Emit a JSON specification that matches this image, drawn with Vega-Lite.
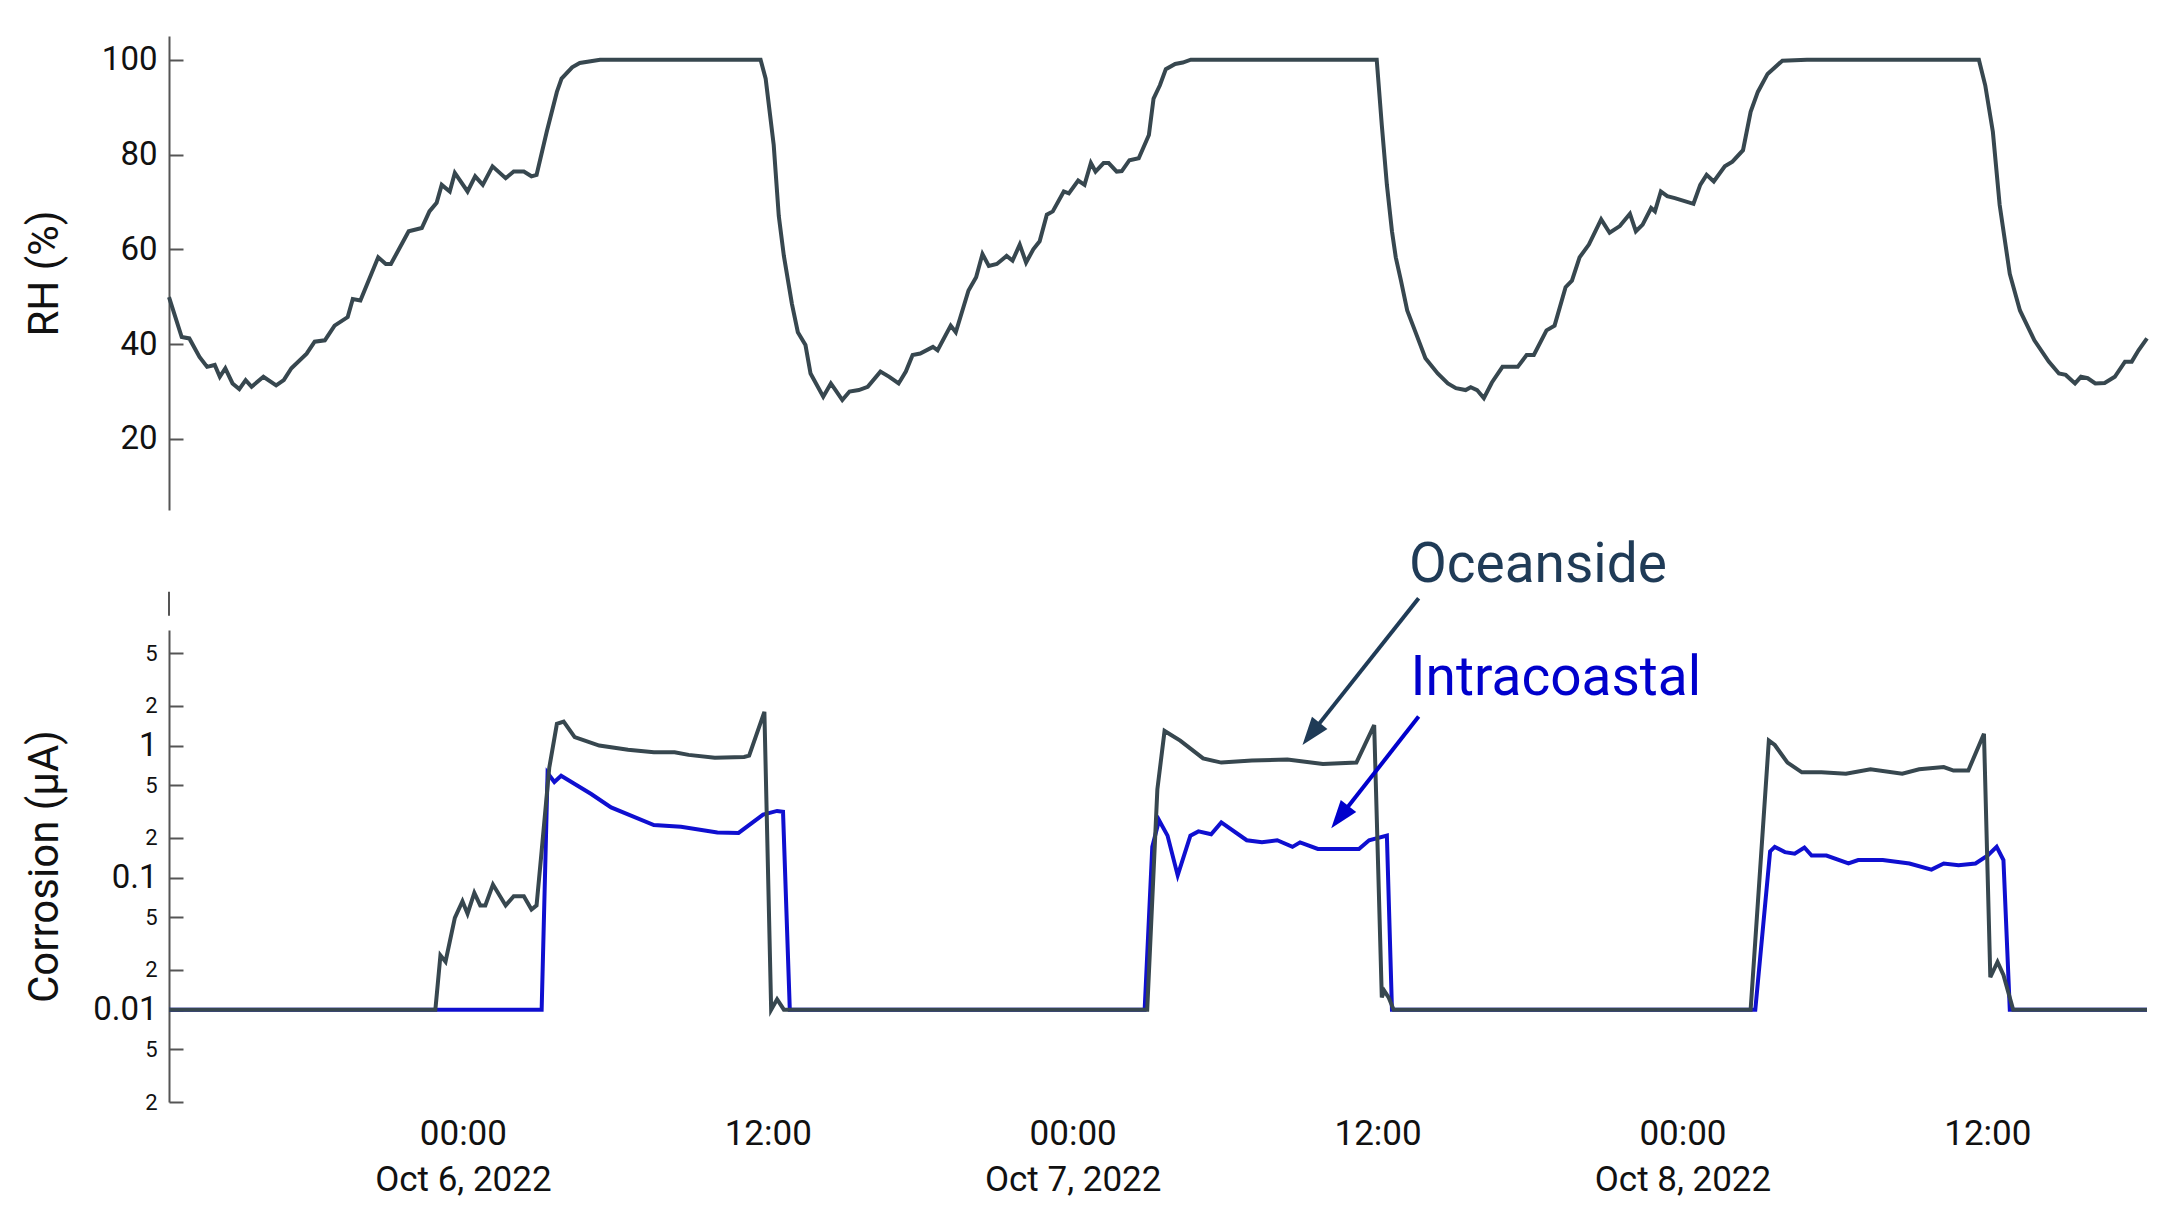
{
  "$schema": "https://vega.github.io/schema/vega-lite/v6.json",
  "background": "white",
  "padding": {"left": 22, "top": 36, "right": 5, "bottom": 5},
  "bounds": "flush",
  "spacing": 120,
  "config": {"view": {"stroke": null}, "font": "Roboto"},
  "datasets": {
    "rh": [
      {"t": "2022-10-05T12:26:00", "v": 49.9}, {"t": "2022-10-05T12:56:00", "v": 41.5}, {"t": "2022-10-05T13:14:00", "v": 41.2},
      {"t": "2022-10-05T13:38:00", "v": 37.3}, {"t": "2022-10-05T13:56:00", "v": 35.2}, {"t": "2022-10-05T14:14:00", "v": 35.6},
      {"t": "2022-10-05T14:26:00", "v": 33.1}, {"t": "2022-10-05T14:39:00", "v": 34.9}, {"t": "2022-10-05T14:56:00", "v": 31.7},
      {"t": "2022-10-05T15:12:00", "v": 30.5}, {"t": "2022-10-05T15:27:00", "v": 32.4}, {"t": "2022-10-05T15:41:00", "v": 31.0},
      {"t": "2022-10-05T16:09:00", "v": 33.1}, {"t": "2022-10-05T16:39:00", "v": 31.3}, {"t": "2022-10-05T16:57:00", "v": 32.4},
      {"t": "2022-10-05T17:15:00", "v": 34.9}, {"t": "2022-10-05T17:51:00", "v": 38.0}, {"t": "2022-10-05T18:10:00", "v": 40.5},
      {"t": "2022-10-05T18:34:00", "v": 40.8}, {"t": "2022-10-05T18:57:00", "v": 43.9}, {"t": "2022-10-05T19:28:00", "v": 45.7},
      {"t": "2022-10-05T19:40:00", "v": 49.5}, {"t": "2022-10-05T19:58:00", "v": 49.2}, {"t": "2022-10-05T20:40:00", "v": 58.3},
      {"t": "2022-10-05T20:58:00", "v": 56.9}, {"t": "2022-10-05T21:10:00", "v": 56.9}, {"t": "2022-10-05T21:52:00", "v": 63.8},
      {"t": "2022-10-05T22:23:00", "v": 64.5}, {"t": "2022-10-05T22:41:00", "v": 68.0}, {"t": "2022-10-05T22:58:00", "v": 69.8},
      {"t": "2022-10-05T23:10:00", "v": 73.6}, {"t": "2022-10-05T23:29:00", "v": 72.2}, {"t": "2022-10-05T23:41:00", "v": 76.1},
      {"t": "2022-10-06T00:11:00", "v": 72.2}, {"t": "2022-10-06T00:29:00", "v": 75.4}, {"t": "2022-10-06T00:47:00", "v": 73.6},
      {"t": "2022-10-06T01:10:00", "v": 77.5}, {"t": "2022-10-06T01:41:00", "v": 75.0}, {"t": "2022-10-06T02:00:00", "v": 76.4},
      {"t": "2022-10-06T02:24:00", "v": 76.4}, {"t": "2022-10-06T02:42:00", "v": 75.4}, {"t": "2022-10-06T02:54:00", "v": 75.7},
      {"t": "2022-10-06T03:18:00", "v": 84.8}, {"t": "2022-10-06T03:42:00", "v": 93.2}, {"t": "2022-10-06T03:53:00", "v": 96.0},
      {"t": "2022-10-06T04:18:00", "v": 98.4}, {"t": "2022-10-06T04:36:00", "v": 99.3}, {"t": "2022-10-06T05:24:00", "v": 100},
      {"t": "2022-10-06T11:43:00", "v": 100}, {"t": "2022-10-06T11:55:00", "v": 96.0}, {"t": "2022-10-06T12:14:00", "v": 82.0},
      {"t": "2022-10-06T12:26:00", "v": 67.0}, {"t": "2022-10-06T12:38:00", "v": 58.6}, {"t": "2022-10-06T12:57:00", "v": 48.5},
      {"t": "2022-10-06T13:11:00", "v": 42.5}, {"t": "2022-10-06T13:29:00", "v": 39.8}, {"t": "2022-10-06T13:41:00", "v": 33.8},
      {"t": "2022-10-06T14:11:00", "v": 28.9}, {"t": "2022-10-06T14:29:00", "v": 31.7}, {"t": "2022-10-06T14:40:00", "v": 30.3},
      {"t": "2022-10-06T14:56:00", "v": 28.2}, {"t": "2022-10-06T15:13:00", "v": 30.0}, {"t": "2022-10-06T15:35:00", "v": 30.3},
      {"t": "2022-10-06T15:56:00", "v": 31.0}, {"t": "2022-10-06T16:26:00", "v": 34.2}, {"t": "2022-10-06T16:47:00", "v": 33.1},
      {"t": "2022-10-06T17:09:00", "v": 31.7}, {"t": "2022-10-06T17:26:00", "v": 34.2}, {"t": "2022-10-06T17:42:00", "v": 37.7},
      {"t": "2022-10-06T18:00:00", "v": 38.0}, {"t": "2022-10-06T18:30:00", "v": 39.4}, {"t": "2022-10-06T18:41:00", "v": 38.7},
      {"t": "2022-10-06T19:12:00", "v": 43.9}, {"t": "2022-10-06T19:24:00", "v": 42.5}, {"t": "2022-10-06T19:54:00", "v": 51.3},
      {"t": "2022-10-06T20:12:00", "v": 54.1}, {"t": "2022-10-06T20:27:00", "v": 59.0}, {"t": "2022-10-06T20:42:00", "v": 56.5},
      {"t": "2022-10-06T21:01:00", "v": 56.9}, {"t": "2022-10-06T21:24:00", "v": 58.6}, {"t": "2022-10-06T21:38:00", "v": 57.6},
      {"t": "2022-10-06T21:55:00", "v": 61.0}, {"t": "2022-10-06T22:10:00", "v": 57.2}, {"t": "2022-10-06T22:27:00", "v": 60.0},
      {"t": "2022-10-06T22:42:00", "v": 61.7}, {"t": "2022-10-06T22:59:00", "v": 67.3}, {"t": "2022-10-06T23:13:00", "v": 68.0},
      {"t": "2022-10-06T23:39:00", "v": 72.2}, {"t": "2022-10-06T23:51:00", "v": 71.8}, {"t": "2022-10-07T00:13:00", "v": 74.5},
      {"t": "2022-10-07T00:28:00", "v": 73.6}, {"t": "2022-10-07T00:43:00", "v": 78.2}, {"t": "2022-10-07T00:54:00", "v": 76.4},
      {"t": "2022-10-07T01:13:00", "v": 78.2}, {"t": "2022-10-07T01:25:00", "v": 78.2}, {"t": "2022-10-07T01:44:00", "v": 76.4},
      {"t": "2022-10-07T01:56:00", "v": 76.5}, {"t": "2022-10-07T02:14:00", "v": 78.8}, {"t": "2022-10-07T02:36:00", "v": 79.2},
      {"t": "2022-10-07T03:00:00", "v": 84.1}, {"t": "2022-10-07T03:11:00", "v": 91.8}, {"t": "2022-10-07T03:26:00", "v": 94.6},
      {"t": "2022-10-07T03:40:00", "v": 98.0}, {"t": "2022-10-07T04:02:00", "v": 99.1}, {"t": "2022-10-07T04:20:00", "v": 99.4},
      {"t": "2022-10-07T04:39:00", "v": 100}, {"t": "2022-10-07T11:58:00", "v": 100}, {"t": "2022-10-07T12:10:00", "v": 86.2},
      {"t": "2022-10-07T12:22:00", "v": 73.6}, {"t": "2022-10-07T12:34:00", "v": 63.8}, {"t": "2022-10-07T12:43:00", "v": 58.3},
      {"t": "2022-10-07T12:55:00", "v": 53.5}, {"t": "2022-10-07T13:10:00", "v": 47.1}, {"t": "2022-10-07T13:28:00", "v": 42.9},
      {"t": "2022-10-07T13:53:00", "v": 37.0}, {"t": "2022-10-07T14:22:00", "v": 33.8}, {"t": "2022-10-07T14:46:00", "v": 31.7},
      {"t": "2022-10-07T15:05:00", "v": 30.7}, {"t": "2022-10-07T15:28:00", "v": 30.3}, {"t": "2022-10-07T15:40:00", "v": 30.9},
      {"t": "2022-10-07T15:55:00", "v": 30.3}, {"t": "2022-10-07T16:11:00", "v": 28.6}, {"t": "2022-10-07T16:30:00", "v": 31.9},
      {"t": "2022-10-07T16:55:00", "v": 35.2}, {"t": "2022-10-07T17:31:00", "v": 35.2}, {"t": "2022-10-07T17:52:00", "v": 37.7},
      {"t": "2022-10-07T18:09:00", "v": 37.7}, {"t": "2022-10-07T18:39:00", "v": 42.9}, {"t": "2022-10-07T18:58:00", "v": 43.9},
      {"t": "2022-10-07T19:24:00", "v": 52.0}, {"t": "2022-10-07T19:39:00", "v": 53.4}, {"t": "2022-10-07T19:57:00", "v": 58.3},
      {"t": "2022-10-07T20:19:00", "v": 61.0}, {"t": "2022-10-07T20:48:00", "v": 66.3}, {"t": "2022-10-07T21:08:00", "v": 63.5},
      {"t": "2022-10-07T21:32:00", "v": 64.9}, {"t": "2022-10-07T21:56:00", "v": 67.5}, {"t": "2022-10-07T22:10:00", "v": 63.8},
      {"t": "2022-10-07T22:26:00", "v": 65.2}, {"t": "2022-10-07T22:46:00", "v": 68.7}, {"t": "2022-10-07T22:55:00", "v": 68.0},
      {"t": "2022-10-07T23:09:00", "v": 72.2}, {"t": "2022-10-07T23:24:00", "v": 71.2}, {"t": "2022-10-07T23:42:00", "v": 70.8},
      {"t": "2022-10-08T00:26:00", "v": 69.6}, {"t": "2022-10-08T00:42:00", "v": 73.6}, {"t": "2022-10-08T00:57:00", "v": 75.7},
      {"t": "2022-10-08T01:14:00", "v": 74.3}, {"t": "2022-10-08T01:40:00", "v": 77.5}, {"t": "2022-10-08T01:58:00", "v": 78.5},
      {"t": "2022-10-08T02:23:00", "v": 80.9}, {"t": "2022-10-08T02:41:00", "v": 89.0}, {"t": "2022-10-08T02:58:00", "v": 93.2},
      {"t": "2022-10-08T03:21:00", "v": 97.0}, {"t": "2022-10-08T03:56:00", "v": 99.8}, {"t": "2022-10-08T04:54:00", "v": 100},
      {"t": "2022-10-08T11:40:00", "v": 100}, {"t": "2022-10-08T11:55:00", "v": 94.6}, {"t": "2022-10-08T12:13:00", "v": 84.8},
      {"t": "2022-10-08T12:29:00", "v": 69.4}, {"t": "2022-10-08T12:53:00", "v": 54.8}, {"t": "2022-10-08T13:17:00", "v": 47.1},
      {"t": "2022-10-08T13:51:00", "v": 40.8}, {"t": "2022-10-08T14:25:00", "v": 36.3}, {"t": "2022-10-08T14:49:00", "v": 33.8},
      {"t": "2022-10-08T15:05:00", "v": 33.5}, {"t": "2022-10-08T15:27:00", "v": 31.7}, {"t": "2022-10-08T15:41:00", "v": 33.1},
      {"t": "2022-10-08T15:57:00", "v": 32.8}, {"t": "2022-10-08T16:15:00", "v": 31.7}, {"t": "2022-10-08T16:37:00", "v": 31.8},
      {"t": "2022-10-08T17:01:00", "v": 33.1}, {"t": "2022-10-08T17:25:00", "v": 36.3}, {"t": "2022-10-08T17:41:00", "v": 36.3},
      {"t": "2022-10-08T17:57:00", "v": 38.7}, {"t": "2022-10-08T18:17:00", "v": 41.2}
    ],
    "oceanside": [
      {"t": "2022-10-05T12:26:00", "v": 0.01}, {"t": "2022-10-05T22:55:00", "v": 0.01}, {"t": "2022-10-05T23:07:00", "v": 0.0258},
      {"t": "2022-10-05T23:19:00", "v": 0.0231}, {"t": "2022-10-05T23:41:00", "v": 0.0496}, {"t": "2022-10-05T23:59:00", "v": 0.0663},
      {"t": "2022-10-06T00:11:00", "v": 0.0533}, {"t": "2022-10-06T00:27:00", "v": 0.0767}, {"t": "2022-10-06T00:41:00", "v": 0.0616},
      {"t": "2022-10-06T00:53:00", "v": 0.0616}, {"t": "2022-10-06T01:11:00", "v": 0.0887}, {"t": "2022-10-06T01:41:00", "v": 0.0616},
      {"t": "2022-10-06T02:00:00", "v": 0.0723}, {"t": "2022-10-06T02:24:00", "v": 0.0723}, {"t": "2022-10-06T02:42:00", "v": 0.0573},
      {"t": "2022-10-06T02:54:00", "v": 0.0616}, {"t": "2022-10-06T03:06:00", "v": 0.159}, {"t": "2022-10-06T03:24:00", "v": 0.68},
      {"t": "2022-10-06T03:42:00", "v": 1.46}, {"t": "2022-10-06T03:58:00", "v": 1.52}, {"t": "2022-10-06T04:24:00", "v": 1.16},
      {"t": "2022-10-06T05:22:00", "v": 1.0}, {"t": "2022-10-06T06:30:00", "v": 0.93}, {"t": "2022-10-06T07:31:00", "v": 0.89},
      {"t": "2022-10-06T08:20:00", "v": 0.89}, {"t": "2022-10-06T08:53:00", "v": 0.85}, {"t": "2022-10-06T09:55:00", "v": 0.81},
      {"t": "2022-10-06T11:04:00", "v": 0.82}, {"t": "2022-10-06T11:16:00", "v": 0.84},
      {"t": "2022-10-06T11:52:00", "v": 1.8}, {"t": "2022-10-06T12:08:00", "v": 0.01}, {"t": "2022-10-06T12:22:00", "v": 0.012},
      {"t": "2022-10-06T12:38:00", "v": 0.01}, {"t": "2022-10-07T02:56:00", "v": 0.01}, {"t": "2022-10-07T03:20:00", "v": 0.466},
      {"t": "2022-10-07T03:37:00", "v": 1.29}, {"t": "2022-10-07T04:14:00", "v": 1.09}, {"t": "2022-10-07T05:08:00", "v": 0.80},
      {"t": "2022-10-07T05:51:00", "v": 0.743}, {"t": "2022-10-07T07:03:00", "v": 0.772}, {"t": "2022-10-07T08:27:00", "v": 0.784},
      {"t": "2022-10-07T09:51:00", "v": 0.726}, {"t": "2022-10-07T11:10:00", "v": 0.743}, {"t": "2022-10-07T11:52:00", "v": 1.43},
      {"t": "2022-10-07T12:10:00", "v": 0.0124}, {"t": "2022-10-07T12:16:00", "v": 0.0139}, {"t": "2022-10-07T12:26:00", "v": 0.0124},
      {"t": "2022-10-07T12:38:00", "v": 0.01}, {"t": "2022-10-08T02:41:00", "v": 0.01}, {"t": "2022-10-08T03:24:00", "v": 1.09},
      {"t": "2022-10-08T03:38:00", "v": 1.01}, {"t": "2022-10-08T04:08:00", "v": 0.743}, {"t": "2022-10-08T04:42:00", "v": 0.627},
      {"t": "2022-10-08T05:28:00", "v": 0.627}, {"t": "2022-10-08T06:26:00", "v": 0.612}, {"t": "2022-10-08T07:24:00", "v": 0.662},
      {"t": "2022-10-08T08:39:00", "v": 0.612}, {"t": "2022-10-08T09:19:00", "v": 0.662}, {"t": "2022-10-08T10:17:00", "v": 0.688},
      {"t": "2022-10-08T10:40:00", "v": 0.647}, {"t": "2022-10-08T11:15:00", "v": 0.647}, {"t": "2022-10-08T11:52:00", "v": 1.23},
      {"t": "2022-10-08T12:07:00", "v": 0.0176}, {"t": "2022-10-08T12:24:00", "v": 0.023}, {"t": "2022-10-08T12:38:00", "v": 0.0183},
      {"t": "2022-10-08T13:01:00", "v": 0.01}, {"t": "2022-10-08T18:17:00", "v": 0.01}
    ],
    "intracoastal": [
      {"t": "2022-10-05T12:26:00", "v": 0.01}, {"t": "2022-10-06T03:06:00", "v": 0.01}, {"t": "2022-10-06T03:20:00", "v": 0.62},
      {"t": "2022-10-06T03:36:00", "v": 0.53}, {"t": "2022-10-06T03:52:00", "v": 0.59},
      {"t": "2022-10-06T05:03:00", "v": 0.43}, {"t": "2022-10-06T05:50:00", "v": 0.34},
      {"t": "2022-10-06T07:31:00", "v": 0.25}, {"t": "2022-10-06T08:35:00", "v": 0.243},
      {"t": "2022-10-06T10:01:00", "v": 0.22}, {"t": "2022-10-06T10:51:00", "v": 0.218}, {"t": "2022-10-06T11:49:00", "v": 0.30},
      {"t": "2022-10-06T12:22:00", "v": 0.32}, {"t": "2022-10-06T12:36:00", "v": 0.315},
      {"t": "2022-10-06T12:52:00", "v": 0.01}, {"t": "2022-10-07T02:50:00", "v": 0.01},
      {"t": "2022-10-07T03:08:00", "v": 0.171}, {"t": "2022-10-07T03:24:00", "v": 0.272}, {"t": "2022-10-07T03:44:00", "v": 0.208},
      {"t": "2022-10-07T04:08:00", "v": 0.104}, {"t": "2022-10-07T04:38:00", "v": 0.208}, {"t": "2022-10-07T04:57:00", "v": 0.224},
      {"t": "2022-10-07T05:27:00", "v": 0.213}, {"t": "2022-10-07T05:51:00", "v": 0.262}, {"t": "2022-10-07T06:51:00", "v": 0.192},
      {"t": "2022-10-07T07:27:00", "v": 0.185}, {"t": "2022-10-07T08:03:00", "v": 0.192}, {"t": "2022-10-07T08:39:00", "v": 0.171},
      {"t": "2022-10-07T08:57:00", "v": 0.185}, {"t": "2022-10-07T09:39:00", "v": 0.165}, {"t": "2022-10-07T10:40:00", "v": 0.165},
      {"t": "2022-10-07T11:16:00", "v": 0.165}, {"t": "2022-10-07T11:40:00", "v": 0.192}, {"t": "2022-10-07T12:22:00", "v": 0.208},
      {"t": "2022-10-07T12:34:00", "v": 0.01}, {"t": "2022-10-08T02:52:00", "v": 0.01}, {"t": "2022-10-08T03:27:00", "v": 0.158},
      {"t": "2022-10-08T03:38:00", "v": 0.171}, {"t": "2022-10-08T04:02:00", "v": 0.156}, {"t": "2022-10-08T04:25:00", "v": 0.152},
      {"t": "2022-10-08T04:48:00", "v": 0.169}, {"t": "2022-10-08T05:05:00", "v": 0.147}, {"t": "2022-10-08T05:40:00", "v": 0.147},
      {"t": "2022-10-08T06:32:00", "v": 0.128}, {"t": "2022-10-08T06:55:00", "v": 0.136}, {"t": "2022-10-08T07:53:00", "v": 0.136},
      {"t": "2022-10-08T08:56:00", "v": 0.128}, {"t": "2022-10-08T09:48:00", "v": 0.115}, {"t": "2022-10-08T10:17:00", "v": 0.128},
      {"t": "2022-10-08T10:52:00", "v": 0.124}, {"t": "2022-10-08T11:32:00", "v": 0.128}, {"t": "2022-10-08T12:01:00", "v": 0.147},
      {"t": "2022-10-08T12:22:00", "v": 0.171}, {"t": "2022-10-08T12:38:00", "v": 0.136}, {"t": "2022-10-08T12:53:00", "v": 0.01},
      {"t": "2022-10-08T18:17:00", "v": 0.01}
    ],
    "arrows": [
      {"name": "Oceanside", "t1": "2022-10-07T13:37:00", "v1": 13.03, "th": "2022-10-07T09:23:00", "vh": 1.226},
      {"name": "Intracoastal", "t1": "2022-10-07T13:37:00", "v1": 1.657, "th": "2022-10-07T10:31:00", "vh": 0.2873}
    ],
    "notes": [
      {"name": "Oceanside", "t": "2022-10-07T13:14:00", "v": 17.22},
      {"name": "Intracoastal", "t": "2022-10-07T13:18:00", "v": 2.418}
    ],
    "axisbreak": [
      {"t": "2022-10-05T12:26:00", "v1": 9.6, "v2": 14.6}
    ]
  },
  "vconcat": [
    {
      "width": 1978,
      "height": 474,
      "data": {"name": "rh"},
      "mark": {"type": "line", "color": "#37474f", "strokeWidth": 4},
      "encoding": {
        "x": {
          "field": "t", "type": "temporal",
          "scale": {"domain": [{"year": 2022, "month": 10, "date": 5, "hours": 12, "minutes": 26}, {"year": 2022, "month": 10, "date": 8, "hours": 18, "minutes": 17}], "nice": false},
          "axis": null
        },
        "y": {
          "field": "v", "type": "quantitative",
          "scale": {"domain": [5, 105], "nice": false, "zero": false},
          "axis": {
            "title": "RH (%)", "titleFont": "Roboto", "titleFontSize": 42, "titleFontWeight": "normal", "titleColor": "#111",
            "titleX": -125, "titleBaseline": "middle", "titleAngle": -90,
            "values": [20, 40, 60, 80, 100], "grid": false,
            "domainColor": "#555", "domainWidth": 2,
            "tickColor": "#555", "tickWidth": 2, "tickSize": -14,
            "labelFont": "Roboto", "labelFontSize": 33, "labelColor": "#111", "labelPadding": 26
          }
        }
      }
    },
    {
      "width": 1978,
      "height": 472,
      "layer": [
        {
          "data": {"name": "intracoastal"},
          "mark": {"type": "line", "color": "#0f0fd0", "strokeWidth": 4},
          "encoding": {
            "x": {
              "field": "t", "type": "temporal",
              "scale": {"domain": [{"year": 2022, "month": 10, "date": 5, "hours": 12, "minutes": 26}, {"year": 2022, "month": 10, "date": 8, "hours": 18, "minutes": 17}], "nice": false},
              "axis": {
                "title": null, "domain": false, "ticks": false, "grid": false,
                "values": [
                  {"year": 2022, "month": 10, "date": 6, "hours": 0},
                  {"year": 2022, "month": 10, "date": 6, "hours": 12},
                  {"year": 2022, "month": 10, "date": 7, "hours": 0},
                  {"year": 2022, "month": 10, "date": 7, "hours": 12},
                  {"year": 2022, "month": 10, "date": 8, "hours": 0},
                  {"year": 2022, "month": 10, "date": 8, "hours": 12}
                ],
                "labelExpr": "hours(datum.value) == 0 ? [timeFormat(datum.value, '%H:%M'), timeFormat(datum.value, '%b %-d, %Y')] : timeFormat(datum.value, '%H:%M')",
                "labelFont": "Roboto", "labelFontSize": 35, "labelColor": "#111", "labelPadding": 14, "labelLineHeight": 46,
                "labelOverlap": false, "labelFlush": false
              }
            },
            "y": {
              "field": "v", "type": "quantitative",
              "scale": {"type": "log", "domain": [0.002, 7.5], "nice": false},
              "axis": {
                "title": "Corrosion (µA)", "titleFont": "Roboto", "titleFontSize": 42, "titleFontWeight": "normal", "titleColor": "#111",
                "titleX": -125, "titleBaseline": "middle", "titleAngle": -90,
                "values": [0.002, 0.005, 0.01, 0.02, 0.05, 0.1, 0.2, 0.5, 1, 2, 5], "grid": false,
                "domainColor": "#555", "domainWidth": 2,
                "tickColor": "#555", "tickWidth": 2, "tickSize": -14,
                "labelExpr": "datum.value == 0.01 ? '0.01' : datum.value == 0.1 ? '0.1' : datum.value == 1 ? '1' : (datum.value == 0.002 || datum.value == 0.02 || datum.value == 0.2 || datum.value == 2) ? '2' : '5'",
                "labelFontSize": {"condition": {"test": "datum.value == 0.01 || datum.value == 0.1 || datum.value == 1", "value": 33}, "value": 22},
                "labelFont": "Roboto", "labelColor": "#111", "labelPadding": 26, "labelOverlap": false
              }
            }
          }
        },
        {
          "data": {"name": "oceanside"},
          "mark": {"type": "line", "color": "#37474f", "strokeWidth": 4},
          "encoding": {
            "x": {"field": "t", "type": "temporal"},
            "y": {"field": "v", "type": "quantitative"}
          }
        },
        {
          "data": {"name": "axisbreak"},
          "mark": {"type": "rule", "color": "#555", "strokeWidth": 2, "clip": false},
          "encoding": {
            "x": {"field": "t", "type": "temporal"},
            "y": {"field": "v1", "type": "quantitative"},
            "y2": {"field": "v2"}
          }
        },
        {
          "data": {"name": "arrows"},
          "mark": {"type": "rule", "strokeWidth": 4, "clip": false},
          "encoding": {
            "x": {"field": "t1", "type": "temporal"},
            "y": {"field": "v1", "type": "quantitative"},
            "x2": {"field": "th"},
            "y2": {"field": "vh"},
            "color": {"field": "name", "type": "nominal", "scale": {"domain": ["Oceanside", "Intracoastal"], "range": ["#1f3b57", "#0000cc"]}, "legend": null}
          }
        },
        {
          "data": {"name": "arrows"},
          "mark": {"type": "point", "shape": "M0,-1L-0.7,1L0.7,1Z", "size": 784, "angle": 218, "filled": true, "opacity": 1, "strokeWidth": 0, "clip": false},
          "encoding": {
            "x": {"field": "th", "type": "temporal"},
            "y": {"field": "vh", "type": "quantitative"},
            "color": {"field": "name", "type": "nominal", "legend": null}
          }
        },
        {
          "data": {"name": "notes"},
          "mark": {"type": "text", "font": "Roboto", "fontSize": 55, "align": "left", "baseline": "alphabetic"},
          "encoding": {
            "x": {"field": "t", "type": "temporal"},
            "y": {"field": "v", "type": "quantitative"},
            "text": {"field": "name"},
            "color": {"field": "name", "type": "nominal", "legend": null}
          }
        }
      ]
    }
  ]
}
